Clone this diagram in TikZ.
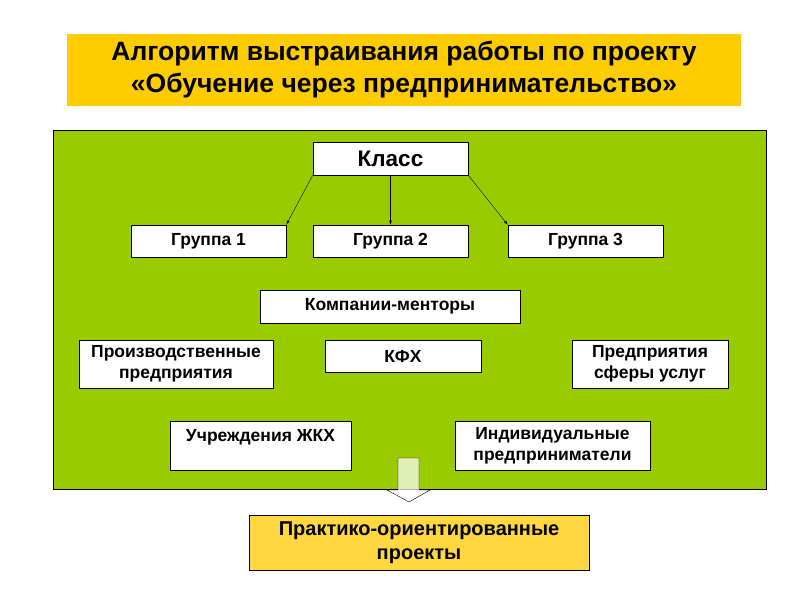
\documentclass[tikz,border=0pt]{standalone}
\usepackage{fontspec}
\setmainfont{Liberation Sans}
\usetikzlibrary{positioning}
\definecolor{titleyellow}{HTML}{FFCC00}
\definecolor{fieldgreen}{HTML}{99CC00}
\definecolor{projyellow}{HTML}{FFD740}
\begin{document}
\begin{tikzpicture}[x=1pt,y=-1pt] % Алгоритм
\tikzstyle{mybox} = [draw, fill=white, rectangle, thick, minimum height=32pt, align=center, inner sep=0pt, font=\bfseries\fontsize{17.5}{21}\selectfont] % white box style
\tikzstyle{myarrow} = [-latex, thin] % arrow style
\useasboundingbox (0,0) rectangle (800,600);
\fill[white] (0,0) rectangle (800,600);

% title
\node[fill=titleyellow, minimum width=674pt, minimum height=72pt, align=center, font=\bfseries\fontsize{26.5}{32}\selectfont] (title) at (404,70)
	{Алгоритм выстраивания работы по проекту\\«Обучение через предпринимательство»};

% green field
\node[draw, fill=fieldgreen, minimum width=713pt, minimum height=359pt, inner sep=0pt] (field) at (409.5,309.5) {};

% class and groups
\node[mybox, minimum width=155pt, minimum height=33pt, font=\bfseries\fontsize{22.5}{26}\selectfont] (klass) at (390.5,158.5) {Класс};
\node[mybox, minimum width=155pt] (g1) at (208.5,241) {Группа 1};
\node[mybox, minimum width=155pt] (g2) at (390.5,241) {Группа 2};
\node[mybox, minimum width=155pt] (g3) at (585.5,241) {Группа 3};
\draw[myarrow] (klass.south west) -- (g1.north east);
\draw[myarrow] (klass.south) -- (g2.north);
\draw[myarrow] (klass.south east) -- (g3.north west);

% mentors
\node[mybox, minimum width=260pt, minimum height=33pt] (mentors) at (390,306.5) {Компании-менторы};
\node[mybox, minimum width=194pt, minimum height=48pt] (prod) at (176,364) {Производственные\\предприятия};
\node[mybox, minimum width=156pt] (kfh) at (403,356) {КФХ};
\node[mybox, minimum width=156pt, minimum height=48pt] (uslug) at (650,364) {Предприятия\\сферы услуг};
\node[mybox, minimum width=181pt, minimum height=49pt] (zhkh) at (260.5,445.5) {Учреждения ЖКХ\\ \mbox{}};
\node[mybox, minimum width=195pt, minimum height=49pt] (ip) at (552.5,445.5) {Индивидуальные\\предприниматели};

% block arrow
\draw[fill=white, fill opacity=0.7, thin] (398,458) -- (419,458) -- (419,490) -- (430,490) -- (409,502) -- (387,490) -- (398,490) -- cycle;

% result
\node[draw, thick, fill=projyellow, minimum width=340pt, minimum height=55pt, align=center, font=\bfseries\fontsize{20}{24}\selectfont] (proj) at (419,542.5)
	{Практико-ориентированные\\проекты};
\end{tikzpicture}
\end{document}
